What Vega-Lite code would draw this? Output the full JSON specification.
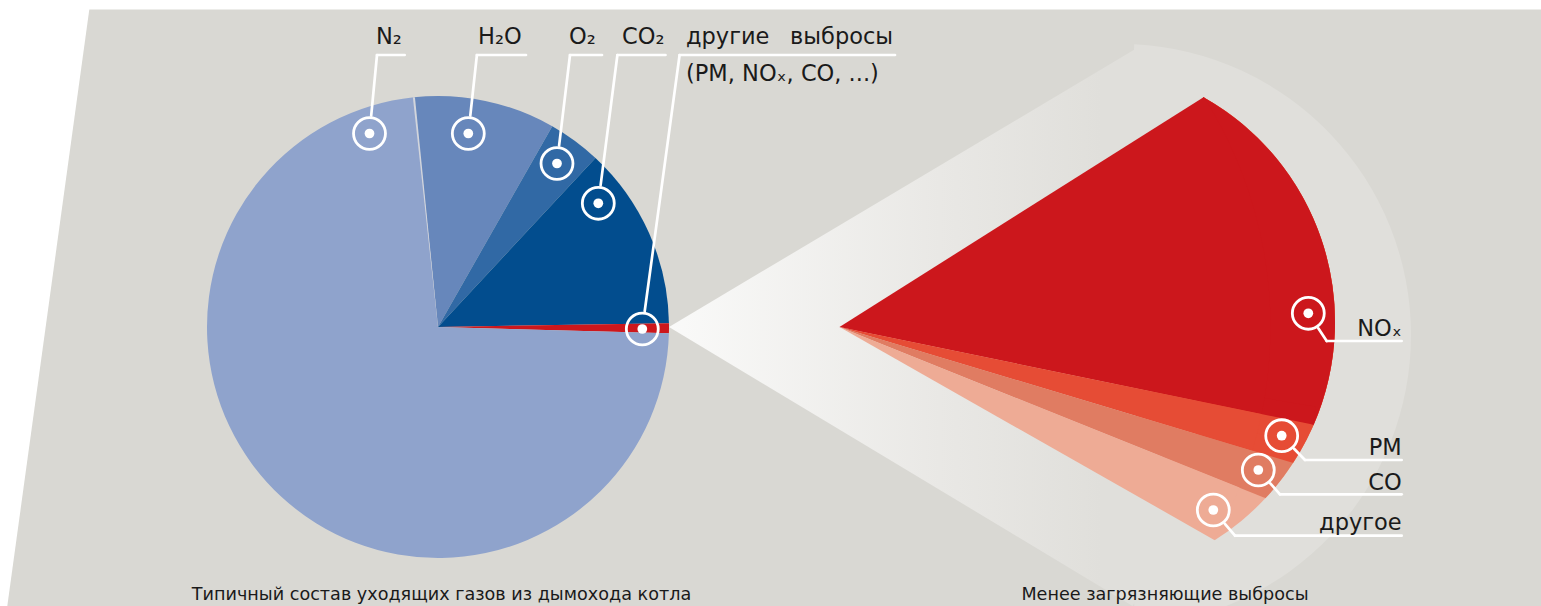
{
"$schema":"https://vega.github.io/schema/vega-lite/v6.json",
"width":1541,"height":606,"autosize":{"type":"none"},"padding":0,
"background":"#d9d8d3",
"config":{"view":{"stroke":null},"text":{"font":"DejaVu Sans"}},
"data":{"values":[{}]},
"datasets":{
 "leftPie":[
  {"gas":"H₂O","share":9.9,"ord":1},
  {"gas":"O₂","share":3.7,"ord":2},
  {"gas":"CO₂","share":12.8,"ord":3},
  {"gas":"другие выбросы","share":0.7,"ord":4},
  {"gas":"N₂","share":72.9,"ord":5}
 ],
 "rightFan":[
  {"gas":"NOₓ","share":71.0,"ord":1},
  {"gas":"PM","share":8.1,"ord":2},
  {"gas":"CO","share":8.4,"ord":3},
  {"gas":"другое","share":12.5,"ord":4}
 ],
 "callouts":[
  {"gas":"N₂","cx":369.5,"cy":133.5,"sx":371.2,"sy":115.6,"ex":377,"ey":55,"ux":404.7},
  {"gas":"H₂O","cx":468.3,"cy":133.5,"sx":470.3,"sy":115.6,"ex":476.9,"ey":55,"ux":526},
  {"gas":"O₂","cx":557,"cy":163.5,"sx":559.1,"sy":145.6,"ex":570,"ey":55,"ux":602},
  {"gas":"CO₂","cx":598.3,"cy":203.3,"sx":600.6,"sy":185.4,"ex":617.4,"ey":55,"ux":665.5},
  {"gas":"другие выбросы","cx":642.3,"cy":329,"sx":644.7,"sy":311.2,"ex":679.6,"ey":55,"ux":895},
  {"gas":"NOₓ","cx":1308.3,"cy":313.3,"sx":1318.3,"sy":328.3,"ex":1326.7,"ey":341,"ux":1401.7},
  {"gas":"PM","cx":1281.7,"cy":435.7,"sx":1294.1,"sy":448.7,"ex":1305,"ey":460,"ux":1401.7},
  {"gas":"CO","cx":1258.3,"cy":470,"sx":1270.3,"sy":483.4,"ex":1280,"ey":494.3,"ux":1401.7},
  {"gas":"другое","cx":1213.3,"cy":510,"sx":1224.9,"sy":523.8,"ex":1235,"ey":535.7,"ux":1401.7}
 ],
 "topLabels":[
  {"t":"N₂","tx":376,"ty":43.5},
  {"t":"H₂O","tx":478,"ty":43.5},
  {"t":"O₂","tx":569,"ty":43.5},
  {"t":"CO₂","tx":622,"ty":43.5},
  {"t":"другие","tx":686,"ty":43.5},
  {"t":"выбросы","tx":790,"ty":43.5},
  {"t":"(PM, NOₓ, CO, ...)","tx":686,"ty":80.7}
 ],
 "fanLabels":[
  {"t":"NOₓ","tx":1401.7,"ty":335.7},
  {"t":"PM","tx":1401.7,"ty":455},
  {"t":"CO","tx":1401.7,"ty":490},
  {"t":"другое","tx":1401.7,"ty":530}
 ],
 "captions":[
  {"t":"Типичный состав уходящих газов из дымохода котла","tx":441.5,"ty":600},
  {"t":"Менее загрязняющие выбросы","tx":1165,"ty":600}
 ]
},
"resolve":{"scale":{"theta":"independent","color":"independent"}},
"layer":[
 {"mark":{"type":"rect","color":"#ffffff"},"encoding":{
   "x":{"datum":0,"type":"quantitative","scale":{"domain":[0,1541],"range":[0,1541],"nice":false,"zero":false},"axis":null},
   "x2":{"datum":1541},
   "y":{"datum":0,"type":"quantitative","scale":{"domain":[0,606],"range":[0,606],"nice":false,"zero":false},"axis":null},
   "y2":{"datum":9.5}}},
 {"mark":{"type":"arc","theta":-1.5708,"theta2":0.1366,"outerRadius":700,"color":"#ffffff"},"encoding":{
   "x":{"datum":7.3,"type":"quantitative","scale":{"domain":[0,1541],"range":[0,1541],"nice":false,"zero":false},"axis":null},
   "y":{"datum":606,"type":"quantitative","scale":{"domain":[0,606],"range":[0,606],"nice":false,"zero":false},"axis":null}}},
 {"mark":{"type":"arc","theta":0.049,"theta2":3.089,"outerRadius":291,"color":"#e0dfdb"},"encoding":{
   "x":{"datum":1120,"type":"quantitative","scale":{"domain":[0,1541],"range":[0,1541],"nice":false,"zero":false},"axis":null},
   "y":{"datum":335,"type":"quantitative","scale":{"domain":[0,606],"range":[0,606],"nice":false,"zero":false},"axis":null}}},
 {"mark":{"type":"arc","theta":1.0332,"theta2":2.1124,"outerRadius":541,
   "fill":{"gradient":"linear","x1":0,"y1":0,"x2":1,"y2":0,"stops":[{"offset":0,"color":"#fafaf9"},{"offset":0.5,"color":"#e9e8e5"},{"offset":0.8,"color":"#e0dfdb"},{"offset":1,"color":"#e0dfdb"}]}},
  "encoding":{
   "x":{"datum":669,"type":"quantitative","scale":{"domain":[0,1541],"range":[0,1541],"nice":false,"zero":false},"axis":null},
   "y":{"datum":327,"type":"quantitative","scale":{"domain":[0,606],"range":[0,606],"nice":false,"zero":false},"axis":null}}},
 {"mark":{"type":"arc","theta":0.5124,"theta2":2.5788,"outerRadius":258,"color":"#eeab95"},"encoding":{
   "x":{"datum":1077,"type":"quantitative","scale":{"domain":[0,1541],"range":[0,1541],"nice":false,"zero":false},"axis":null},
   "y":{"datum":322,"type":"quantitative","scale":{"domain":[0,606],"range":[0,606],"nice":false,"zero":false},"axis":null}}},
 {"mark":{"type":"arc","theta":0.5124,"theta2":2.323,"outerRadius":258,"color":"#e07c62"},"encoding":{
   "x":{"datum":1077,"type":"quantitative","scale":{"domain":[0,1541],"range":[0,1541],"nice":false,"zero":false},"axis":null},
   "y":{"datum":322,"type":"quantitative","scale":{"domain":[0,606],"range":[0,606],"nice":false,"zero":false},"axis":null}}},
 {"mark":{"type":"arc","theta":1.9199,"theta2":1.953,"outerRadius":458,"color":"#e07c62"},"encoding":{
   "x":{"datum":839.5,"type":"quantitative","scale":{"domain":[0,1541],"range":[0,1541],"nice":false,"zero":false},"axis":null},
   "y":{"datum":327,"type":"quantitative","scale":{"domain":[0,606],"range":[0,606],"nice":false,"zero":false},"axis":null}}},
 {"mark":{"type":"arc","theta":0.5124,"theta2":2.148,"outerRadius":258,"color":"#e64c35"},"encoding":{
   "x":{"datum":1077,"type":"quantitative","scale":{"domain":[0,1541],"range":[0,1541],"nice":false,"zero":false},"axis":null},
   "y":{"datum":322,"type":"quantitative","scale":{"domain":[0,606],"range":[0,606],"nice":false,"zero":false},"axis":null}}},
 {"mark":{"type":"arc","theta":1.8204,"theta2":1.8617,"outerRadius":473,"color":"#e64c35"},"encoding":{
   "x":{"datum":839.5,"type":"quantitative","scale":{"domain":[0,1541],"range":[0,1541],"nice":false,"zero":false},"axis":null},
   "y":{"datum":327,"type":"quantitative","scale":{"domain":[0,606],"range":[0,606],"nice":false,"zero":false},"axis":null}}},
 {"mark":{"type":"arc","theta":0.5124,"theta2":1.981,"outerRadius":258,"color":"#cc171c"},"encoding":{
   "x":{"datum":1077,"type":"quantitative","scale":{"domain":[0,1541],"range":[0,1541],"nice":false,"zero":false},"axis":null},
   "y":{"datum":322,"type":"quantitative","scale":{"domain":[0,606],"range":[0,606],"nice":false,"zero":false},"axis":null}}},
 {"mark":{"type":"arc","theta":1.7366,"theta2":1.7743,"outerRadius":483,"color":"#cc171c"},"encoding":{
   "x":{"datum":839.5,"type":"quantitative","scale":{"domain":[0,1541],"range":[0,1541],"nice":false,"zero":false},"axis":null},
   "y":{"datum":327,"type":"quantitative","scale":{"domain":[0,606],"range":[0,606],"nice":false,"zero":false},"axis":null}}},
 {"data":{"name":"rightFan"},"mark":{"type":"arc","outerRadius":431},"encoding":{
   "x":{"datum":839.5,"type":"quantitative","scale":{"domain":[0,1541],"range":[0,1541],"nice":false,"zero":false},"axis":null},
   "y":{"datum":327,"type":"quantitative","scale":{"domain":[0,606],"range":[0,606],"nice":false,"zero":false},"axis":null},
   "theta":{"field":"share","type":"quantitative","stack":true,"scale":{"domain":[0,100],"range":[1.0076,2.0874]}},
   "order":{"field":"ord","type":"quantitative"},
   "color":{"field":"gas","type":"nominal","scale":{"domain":["NOₓ","PM","CO","другое"],"range":["#cc171c","#e64c35","#e07c62","#eeab95"]},"legend":null}}},
 {"data":{"name":"leftPie"},"mark":{"type":"arc","outerRadius":231},"encoding":{
   "x":{"datum":438,"type":"quantitative","scale":{"domain":[0,1541],"range":[0,1541],"nice":false,"zero":false},"axis":null},
   "y":{"datum":327,"type":"quantitative","scale":{"domain":[0,606],"range":[0,606],"nice":false,"zero":false},"axis":null},
   "theta":{"field":"share","type":"quantitative","stack":true,"scale":{"domain":[0,100],"range":[-0.1045,6.1787]}},
   "order":{"field":"ord","type":"quantitative"},
   "color":{"field":"gas","type":"nominal","scale":{"domain":["N₂","H₂O","O₂","CO₂","другие выбросы"],"range":["#8fa3cc","#6787bb","#3169a5","#024d8e","#cd171c"]},"legend":null}}},
 {"mark":{"type":"arc","theta":-0.109,"theta2":-0.1,"outerRadius":231,"color":"#d2d5dc"},"encoding":{
   "x":{"datum":438,"type":"quantitative","scale":{"domain":[0,1541],"range":[0,1541],"nice":false,"zero":false},"axis":null},
   "y":{"datum":327,"type":"quantitative","scale":{"domain":[0,606],"range":[0,606],"nice":false,"zero":false},"axis":null}}},
 {"data":{"name":"callouts"},"mark":{"type":"rule","color":"#ffffff","strokeWidth":2.7,"strokeCap":"round"},"encoding":{
   "x":{"field":"sx","type":"quantitative","scale":{"domain":[0,1541],"range":[0,1541],"nice":false,"zero":false},"axis":null},
   "y":{"field":"sy","type":"quantitative","scale":{"domain":[0,606],"range":[0,606],"nice":false,"zero":false},"axis":null},
   "x2":{"field":"ex"},"y2":{"field":"ey"}}},
 {"data":{"name":"callouts"},"mark":{"type":"rule","color":"#ffffff","strokeWidth":2.7,"strokeCap":"round"},"encoding":{
   "x":{"field":"ex","type":"quantitative","scale":{"domain":[0,1541],"range":[0,1541],"nice":false,"zero":false},"axis":null},
   "y":{"field":"ey","type":"quantitative","scale":{"domain":[0,606],"range":[0,606],"nice":false,"zero":false},"axis":null},
   "x2":{"field":"ux"},"y2":{"field":"ey"}}},
 {"data":{"name":"callouts"},"mark":{"type":"point","shape":"circle","filled":false,"color":"#ffffff","strokeWidth":2.8,"size":1020,"opacity":1},"encoding":{
   "x":{"field":"cx","type":"quantitative","scale":{"domain":[0,1541],"range":[0,1541],"nice":false,"zero":false},"axis":null},
   "y":{"field":"cy","type":"quantitative","scale":{"domain":[0,606],"range":[0,606],"nice":false,"zero":false},"axis":null}}},
 {"data":{"name":"callouts"},"mark":{"type":"point","shape":"circle","filled":true,"color":"#ffffff","size":95,"opacity":1},"encoding":{
   "x":{"field":"cx","type":"quantitative","scale":{"domain":[0,1541],"range":[0,1541],"nice":false,"zero":false},"axis":null},
   "y":{"field":"cy","type":"quantitative","scale":{"domain":[0,606],"range":[0,606],"nice":false,"zero":false},"axis":null}}},
 {"data":{"name":"topLabels"},"mark":{"type":"text","align":"left","baseline":"alphabetic","fontSize":22.5,"color":"#1a1a1a"},"encoding":{
   "x":{"field":"tx","type":"quantitative","scale":{"domain":[0,1541],"range":[0,1541],"nice":false,"zero":false},"axis":null},
   "y":{"field":"ty","type":"quantitative","scale":{"domain":[0,606],"range":[0,606],"nice":false,"zero":false},"axis":null},
   "text":{"field":"t"}}},
 {"data":{"name":"fanLabels"},"mark":{"type":"text","align":"right","baseline":"alphabetic","fontSize":22.5,"color":"#1a1a1a"},"encoding":{
   "x":{"field":"tx","type":"quantitative","scale":{"domain":[0,1541],"range":[0,1541],"nice":false,"zero":false},"axis":null},
   "y":{"field":"ty","type":"quantitative","scale":{"domain":[0,606],"range":[0,606],"nice":false,"zero":false},"axis":null},
   "text":{"field":"t"}}},
 {"data":{"name":"captions"},"mark":{"type":"text","align":"center","baseline":"alphabetic","fontSize":17.6,"color":"#1a1a1a"},"encoding":{
   "x":{"field":"tx","type":"quantitative","scale":{"domain":[0,1541],"range":[0,1541],"nice":false,"zero":false},"axis":null},
   "y":{"field":"ty","type":"quantitative","scale":{"domain":[0,606],"range":[0,606],"nice":false,"zero":false},"axis":null},
   "text":{"field":"t"}}}
]
}
